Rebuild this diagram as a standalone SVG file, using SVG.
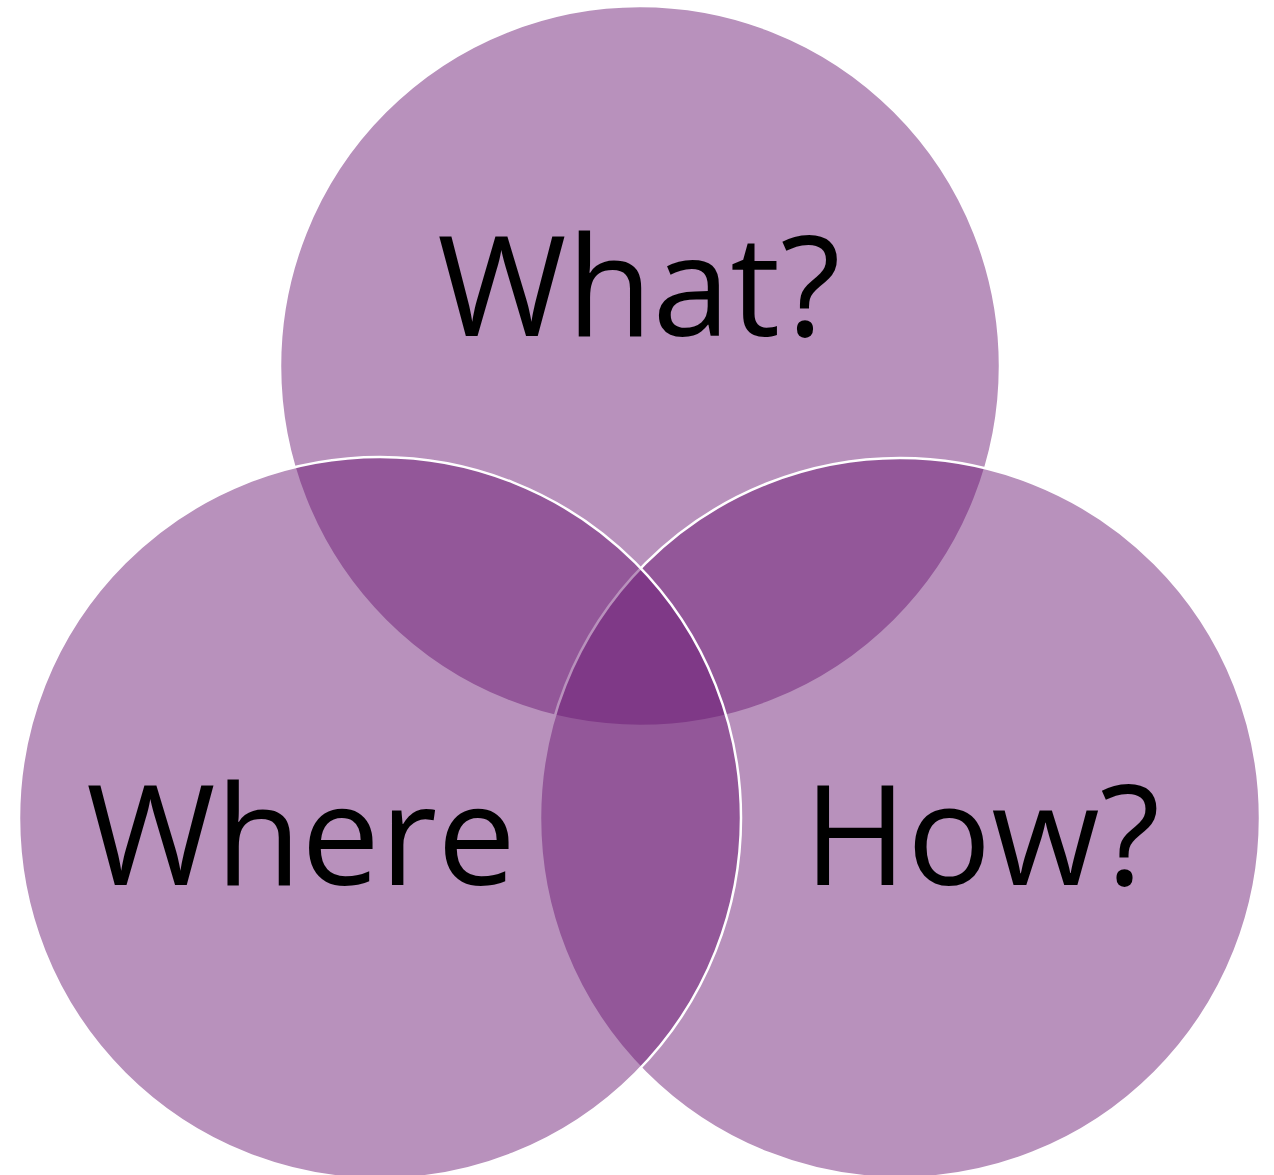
<svg xmlns="http://www.w3.org/2000/svg" width="1274" height="1175" viewBox="0 0 1274 1175">
<style>
.c{fill:#6B1973;fill-opacity:0.48;stroke:#ffffff;stroke-width:2.5}
.t{font-family:"Open Sans","Noto Sans",sans-serif;font-size:140px;fill:#000000;text-anchor:middle}
</style>
<rect width="1274" height="1175" fill="#ffffff"/>
<g id="what">
<circle class="c" cx="640" cy="366" r="360"/>
</g>
<g id="how">
<circle class="c" cx="900" cy="818" r="360"/>
</g>
<g id="where">
<circle class="c" cx="380" cy="818" r="361"/>
</g>
<g id="labels">
<text class="t" x="639" y="336">What?</text>
<text class="t" x="301" y="885">Where</text>
<text class="t" x="982" y="885">How?</text>
</g>
<g id="connectors"></g>
</svg>
